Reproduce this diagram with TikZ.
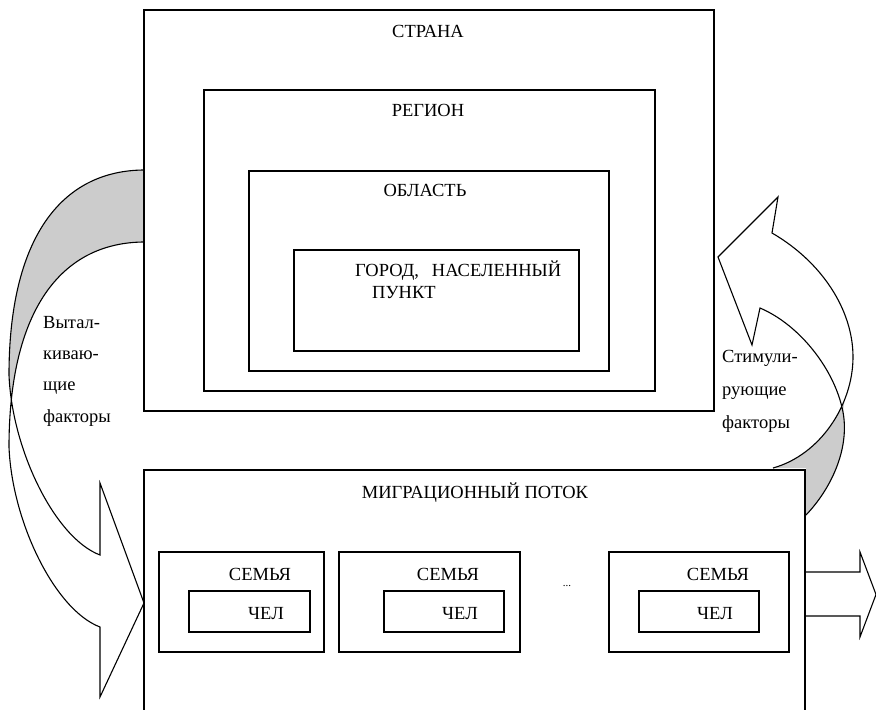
\documentclass[tikz,border=0pt]{standalone}
\usepackage{fontspec}
\setmainfont{Liberation Serif}
\definecolor{backface}{RGB}{204,204,204}
\begin{document}
\begin{tikzpicture}[x=1bp,y=-1bp,
  box/.style={draw,line width=1.1bp,fill=white,inner sep=0pt},
  outl/.style={draw,line width=1.1bp,line join=miter},
  lbl/.style={inner sep=0pt,anchor=base,font=\fontsize{18.5bp}{20bp}\selectfont},
  lbll/.style={inner sep=0pt,anchor=base west,font=\fontsize{18.5bp}{20bp}\selectfont}]
\useasboundingbox (0,0) rectangle (876,710);

% ---------- left curved arrow (pushing factors) ----------
\fill[backface] (145,170) .. controls (60,170) and (9,240) .. (9,375) -- (9,447)
  .. controls (9,312) and (60,242) .. (145,242) -- cycle;
\fill[white] (9,375) .. controls (12,450) and (55,538) .. (100,555) -- (100,483) -- (144,603)
  -- (100,697) -- (100,627) .. controls (55,610) and (12,522) .. (9,447) -- cycle;
\draw[outl] (145,170) .. controls (60,170) and (9,240) .. (9,375)
  .. controls (12,450) and (55,538) .. (100,555) -- (100,483) -- (144,603)
  -- (100,697) -- (100,627) .. controls (55,610) and (12,522) .. (9,447)
  .. controls (9,312) and (60,242) .. (145,242);

% ---------- right curved arrow (stimulating factors) ----------
\fill[backface] (844.6,399.7) .. controls (831.9,431.7) and (805.9,458.9) .. (773,468)
  -- (806,468) -- (806,515) .. controls (830,490) and (850,450) .. (843,412) -- cycle;
\draw[outl] (806,515) .. controls (830,490) and (850,450) .. (843,412)
  .. controls (835,370) and (800,325) .. (760,308) -- (752,345) -- (718,257)
  -- (778,197) -- (772,233) .. controls (822,262) and (853,310) .. (853,357)
  .. controls (853,405) and (820,455) .. (773,468);

% ---------- boxes ----------
\node[box,minimum width=570bp,minimum height=401bp] (strana) at (429,210.5) {};
\node[box,minimum width=451bp,minimum height=301bp] (region) at (429.5,240.5) {};
\node[box,minimum width=360bp,minimum height=200bp] (oblast) at (429,271) {};
\node[box,minimum width=285bp,minimum height=101bp] (gorod) at (436.5,300.5) {};
\node[box,minimum width=661bp,minimum height=250bp] (migr) at (474.5,595) {};
\node[box,minimum width=165bp,minimum height=100bp] (fam1) at (241.5,602) {};
\node[box,minimum width=181bp,minimum height=100bp] (fam2) at (429.5,602) {};
\node[box,minimum width=180bp,minimum height=100bp] (fam3) at (699,602) {};
\node[box,minimum width=121bp,minimum height=41bp] (chel1) at (249.5,611.5) {};
\node[box,minimum width=120bp,minimum height=41bp] (chel2) at (444,611.5) {};
\node[box,minimum width=120bp,minimum height=41bp] (chel3) at (699,611.5) {};

% ---------- outgoing arrow ----------
\draw[outl] (805,572) -- (860,572) -- (860,552) -- (876,594.5) -- (860,637) -- (860,616) -- (805,616);

% ---------- labels ----------
\node[lbl] (tstrana) at (428,38) {СТРАНА};
\node[lbl] (tregion) at (428,117) {РЕГИОН};
\node[lbl] (toblast) at (425,196) {ОБЛАСТЬ};
\node[lbll] (tgorod1) at (355,276) {\makebox[206bp][s]{ГОРОД,\hfill НАСЕЛЕННЫЙ}};
\node[lbll] (tgorod2) at (372,298) {ПУНКТ};
\node[lbl] (tmigr) at (475,498) {МИГРАЦИОННЫЙ ПОТОК};
\node[lbl] (tfam1) at (260,580) {СЕМЬЯ};
\node[lbl] (tfam2) at (448,580) {СЕМЬЯ};
\node[lbl] (tfam3) at (718,580) {СЕМЬЯ};
\node[lbl] (tchel1) at (266,619) {ЧЕЛ};
\node[lbl] (tchel2) at (460,619) {ЧЕЛ};
\node[lbl] (tchel3) at (715,619) {ЧЕЛ};
\node[inner sep=0pt,anchor=base,font=\fontsize{11bp}{12bp}\selectfont] (dots) at (567,586) {...};
\node[lbll] (push1) at (43,328) {Вытал-};
\node[lbll] (push2) at (43,359) {киваю-};
\node[lbll] (push3) at (43,390) {щие};
\node[lbll] (push4) at (43,422) {факторы};
\node[lbll] (stim1) at (722,362) {Стимули-};
\node[lbll] (stim2) at (722,395) {рующие};
\node[lbll] (stim3) at (722,428) {факторы};
\end{tikzpicture}
\end{document}
